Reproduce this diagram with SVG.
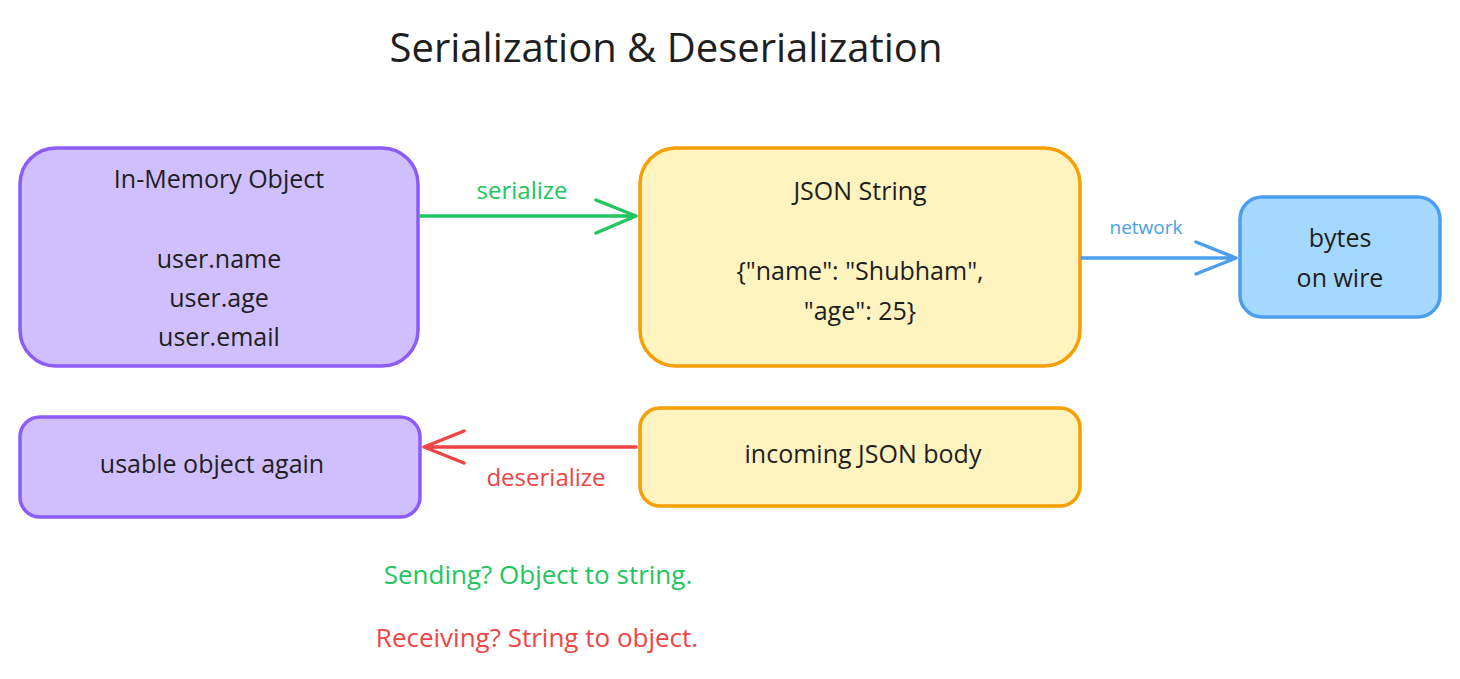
<svg xmlns="http://www.w3.org/2000/svg" width="1460" height="679" viewBox="0 0 1460 679">
<style>
text{font-family:"Open Sans","Liberation Sans",sans-serif;fill:#1e1e1e;text-anchor:middle}
.n{font-size:25px}
.box{stroke-width:3.5}
.p{fill:#d0bfff;stroke:#8b5cf6}
.y{fill:#fff3bf;stroke:#f59f00}
.b{fill:#a5d8ff;stroke:#4a9eed}
.c{fill:none;stroke-width:3.5;stroke-linecap:round;stroke-linejoin:round}
</style>
<rect width="1460" height="679" fill="#fff"/>
<text x="666" y="62" font-size="40">Serialization &amp; Deserialization</text>
<g id="inmemory"><rect class="box p" x="20" y="148" width="398" height="218" rx="36"/>
<text class="n" x="219" y="188">In-Memory Object</text>
<text class="n" x="219" y="268">user.name</text>
<text class="n" x="219" y="307">user.age</text>
<text class="n" x="219" y="346">user.email</text></g>
<g id="json"><rect class="box y" x="640" y="148" width="440" height="218" rx="36"/>
<text class="n" x="860" y="200">JSON String</text>
<text class="n" x="860" y="280">{"name": "Shubham",</text>
<text class="n" x="860" y="320">"age": 25}</text></g>
<g id="bytes"><rect class="box b" x="1240" y="197" width="200" height="120" rx="22"/>
<text class="n" x="1340" y="247">bytes</text>
<text class="n" x="1340" y="287">on wire</text></g>
<g id="usable"><rect class="box p" x="20" y="417" width="400" height="100" rx="20"/>
<text class="n" x="212" y="473">usable object again</text></g>
<g id="incoming"><rect class="box y" x="640" y="408" width="440" height="98" rx="20"/>
<text class="n" x="863" y="463">incoming JSON body</text></g>
<g id="connectors">
<path class="c" stroke="#22c55e" d="M420 216H636M596 200L636 216L596 233"/>
<text x="522" y="199" font-size="24" style="fill:#22c55e">serialize</text>
<path class="c" stroke="#4a9eed" d="M1082 258H1236M1196 242L1236 258L1196 274"/>
<text x="1146" y="234" font-size="19" style="fill:#4a9eed">network</text>
<path class="c" stroke="#ef4444" d="M636 447H424M464 431L424 447L464 463"/>
<text x="546" y="486" font-size="24" style="fill:#ef4444">deserialize</text>
</g>
<text x="538" y="584" font-size="26" style="fill:#22c55e">Sending? Object to string.</text>
<text x="537" y="647" font-size="26" style="fill:#ef4444">Receiving? String to object.</text>
</svg>
